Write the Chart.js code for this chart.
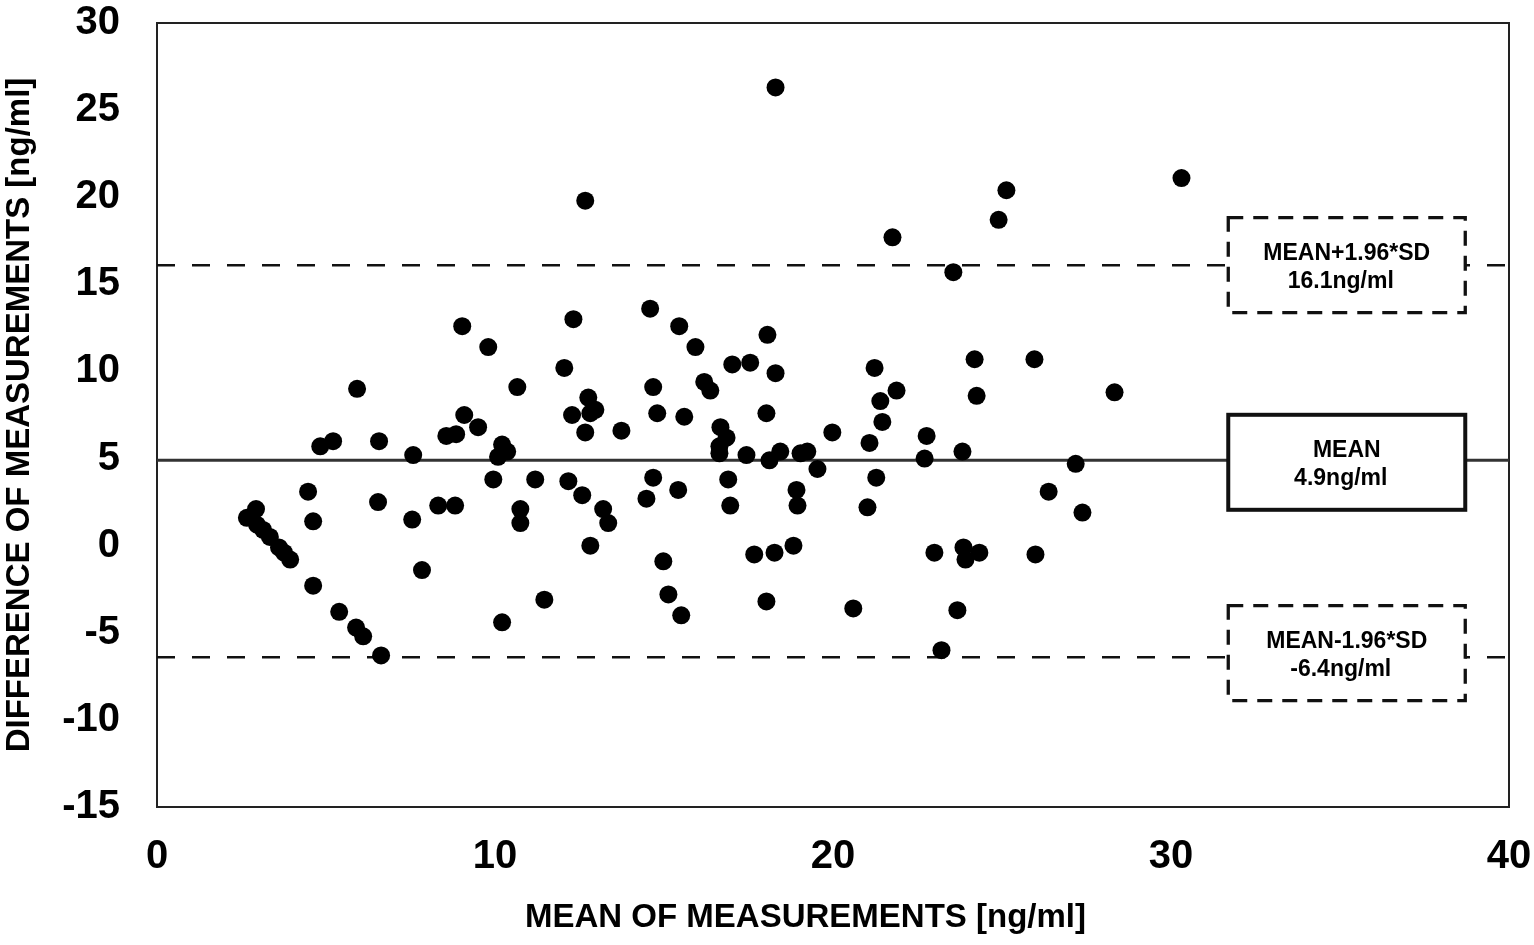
<!DOCTYPE html>
<html lang="en">
<head>
<meta charset="utf-8">
<script src="https://cdn.jsdelivr.net/npm/chart.js@4.4.1/dist/chart.umd.min.js"></script>
<style>
  html, body { margin: 0; padding: 0; background: #fff; }
  #wrap { width: 1534px; height: 945px; }
</style>
</head>
<body>
<div id="wrap"><canvas id="myChart" width="1534" height="945"></canvas></div>
<script>
// mean of the two measurements (x) and their difference (y), ng/ml
var meanVals = [
  2.66, 2.93, 2.96, 3.14, 3.34, 3.61, 3.76, 3.94, 4.47, 4.62,
  4.62, 4.83, 5.21, 5.39, 5.89, 6.10, 5.92, 6.63, 6.57, 6.54,
  7.55, 7.58, 7.84, 8.32, 8.56, 8.85, 8.82, 9.03, 9.09, 9.50,
  9.80, 9.95, 10.09, 10.21, 10.36, 10.21, 10.66, 10.75, 10.75, 11.19,
  11.46, 12.05, 12.28, 12.32, 12.17, 12.67, 12.67, 12.76, 12.97, 12.82,
  12.58, 12.82, 13.20, 13.35, 13.74, 14.48, 14.59, 14.68, 14.68, 14.80,
  14.98, 15.13, 15.42, 15.45, 15.51, 15.60, 15.93, 16.19, 16.37, 16.67,
  16.85, 16.64, 16.64, 16.90, 16.96, 17.02, 17.44, 17.55, 17.67, 18.06,
  18.03, 18.12, 18.03, 18.27, 18.30, 18.44, 18.30, 18.83, 18.92, 18.95,
  19.04, 19.24, 19.54, 19.98, 20.60, 21.02, 21.08, 21.23, 21.28, 21.40,
  21.46, 21.76, 21.88, 22.77, 22.71, 23.00, 23.21, 23.56, 23.68, 23.83,
  23.86, 23.92, 24.19, 24.25, 24.33, 24.90, 25.13, 25.96, 25.99, 26.38,
  27.18, 27.38, 28.33, 30.31
];
var diffVals = [
  1.6, 2.1, 1.2, 0.9, 0.5, -0.1, -0.4, -0.8, 3.1, 1.4,
  -2.3, 5.7, 6.0, -3.8, -4.7, -5.2, 9.0, -6.3, 6.0, 2.5,
  1.5, 5.2, -1.4, 2.3, 6.3, 6.4, 2.3, 12.6, 7.5, 6.8,
  11.4, 3.8, 5.1, 5.8, 5.4, -4.4, 9.1, 2.1, 1.3, 3.8,
  -3.1, 10.2, 7.5, 13.0, 3.7, 19.8, 6.5, 8.5, 7.8, 7.6,
  2.9, 0.0, 2.1, 1.3, 6.6, 2.7, 13.6, 9.1, 3.9, 7.6,
  -0.9, -2.8, 3.2, 12.6, -4.0, 7.4, 11.4, 9.4, 8.9, 6.8,
  6.2, 5.7, 5.3, 3.8, 2.3, 10.4, 5.2, 10.5, -0.5, 12.1,
  7.6, 4.9, -3.2, -0.4, 9.9, 5.4, 26.3, 0.0, 3.2, 2.3,
  5.3, 5.4, 4.4, 6.5, -3.6, 2.2, 5.9, 10.2, 3.9, 8.3,
  7.1, 17.7, 8.9, 6.3, 5.0, -0.4, -6.0, 15.7, -3.7, 5.4,
  -0.1, -0.8, 10.7, 8.6, -0.4, 18.7, 20.4, 10.7, -0.5, 3.1,
  4.7, 1.9, 8.8, 21.1
];

// reference lines: mean and limits of agreement
var limitNames = ["MEAN+1.96*SD", "MEAN", "MEAN-1.96*SD"];
var limitVals = [16.1, 4.9, -6.4];
var limitText = ["16.1ng/ml", "4.9ng/ml", "-6.4ng/ml"];
var xRange = [0, 40];
var yRange = [-15, 30];

var FONT = "'Liberation Sans', Arial, sans-serif";

var points = [];
for (var i = 0; i < meanVals.length; i++) {
  points.push({ x: meanVals[i], y: diffVals[i] });
}

var datasets = [{
  type: 'scatter',
  label: 'difference',
  data: points,
  pointRadius: 9,
  pointHoverRadius: 9,
  backgroundColor: '#000',
  borderWidth: 0,
  order: 0
}];

limitVals.forEach(function (v, k) {
  var isMean = k === 1;
  datasets.push({
    type: 'line',
    label: limitNames[k],
    data: xRange.map(function (x) { return { x: x, y: v }; }),
    showLine: true,
    borderColor: isMean ? '#333' : '#111',
    borderWidth: isMean ? 3 : 2.5,
    borderDash: isMean ? [] : [18, 17],
    pointRadius: 0,
    fill: false,
    order: 1
  });
});

// frame around plot area
var framePlugin = {
  id: 'frame',
  beforeDatasetsDraw: function (chart) {
    var a = chart.chartArea, ctx = chart.ctx;
    ctx.save();
    ctx.strokeStyle = '#222';
    ctx.lineWidth = 2;
    ctx.strokeRect(a.left, a.top, a.right - a.left, a.bottom - a.top);
    ctx.restore();
  }
};

// the three text boxes on the right
var boxPlugin = {
  id: 'limitBoxes',
  afterDatasetsDraw: function (chart) {
    var ctx = chart.ctx;
    var xs = chart.scales.x, ys = chart.scales.y;
    var cx = xs.getPixelForValue(35.2);
    var dy = [0, 2, -4];
    ctx.save();
    limitVals.forEach(function (v, k) {
      var cy = ys.getPixelForValue(v) + dy[k];
      var w = 237, h = 95;
      ctx.fillStyle = '#fff';
      ctx.fillRect(cx - w / 2, cy - h / 2, w, h);
      ctx.strokeStyle = '#111';
      if (k === 1) {
        ctx.setLineDash([]);
        ctx.lineWidth = 4;
      } else {
        ctx.setLineDash([15, 10]);
        ctx.lineWidth = 3.3;
      }
      ctx.strokeRect(cx - w / 2, cy - h / 2, w, h);
      ctx.setLineDash([]);
      ctx.fillStyle = '#000';
      ctx.font = 'bold 23px ' + FONT;
      ctx.textAlign = 'center';
      ctx.textBaseline = 'middle';
      ctx.fillText(limitNames[k], cx, cy - 12);
      ctx.fillText(limitText[k], cx - 6, cy + 16);
    });
    ctx.restore();
  }
};

var ctx = document.getElementById("myChart").getContext("2d");
var myChart = new Chart(ctx, {
  type: 'scatter',
  data: { datasets: datasets },
  plugins: [framePlugin, boxPlugin],
  options: {
    responsive: false,
    devicePixelRatio: 1,
    animation: false,
    layout: { autoPadding: false, padding: { top: 23, right: 25, left: 0, bottom: 0 } },
    plugins: {
      legend: { display: false },
      tooltip: { enabled: false }
    },
    scales: {
      x: {
        type: 'linear',
        min: xRange[0],
        max: xRange[1],
        grid: { display: false, drawTicks: false },
        border: { display: false },
        ticks: {
          stepSize: 10,
          color: '#000',
          padding: 30,
          maxRotation: 0,
          font: { family: FONT, size: 40, weight: 'bold', lineHeight: 1 }
        },
        title: {
          display: true,
          text: 'MEAN OF MEASUREMENTS [ng/ml]\u00a0\u00a0\u00a0\u00a0\u00a0\u00a0',
          color: '#000',
          padding: { top: 0, bottom: 7 },
          font: { family: FONT, size: 33, weight: 'bold' }
        },
        afterFit: function (s) {
          s.height = 138;
          s.paddingLeft = 0;
          s.paddingRight = 0;
        }
      },
      y: {
        type: 'linear',
        min: yRange[0],
        max: yRange[1],
        grid: { display: false, drawTicks: false },
        border: { display: false },
        ticks: {
          stepSize: 5,
          color: '#000',
          padding: 37,
          font: { family: FONT, size: 40, weight: 'bold', lineHeight: 1 }
        },
        title: {
          display: true,
          text: 'DIFFERENCE OF MEASUREMENTS [ng/ml]',
          color: '#000',
          padding: { top: 0, bottom: 0 },
          font: { family: FONT, size: 33, weight: 'bold' }
        },
        afterFit: function (s) {
          s.width = 157;
          s.paddingTop = 0;
          s.paddingBottom = 0;
        }
      }
    }
  }
});
</script>
</body>
</html>
